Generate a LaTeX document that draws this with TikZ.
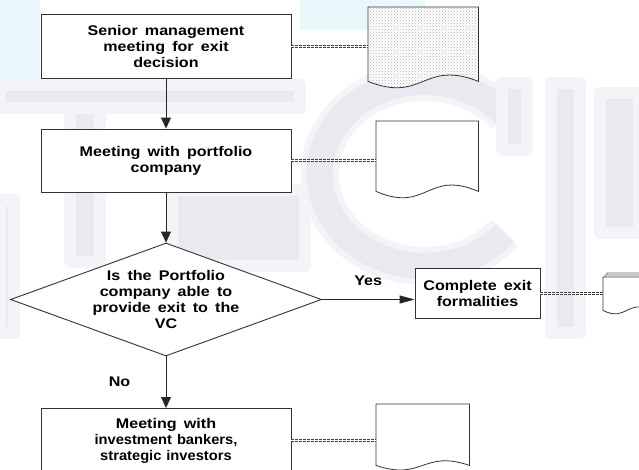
\documentclass[tikz,border=0pt]{standalone}
\usepackage{fontspec}
\setmainfont{Liberation Sans}[FakeStretch=1.15,WordSpace=1.6]
\newfontfamily\narrowsans{Liberation Sans}[FakeStretch=1.05,WordSpace=1.2]
\usetikzlibrary{shapes.geometric,arrows.meta,patterns,calc}
\definecolor{wmark}{RGB}{233,233,240}
\definecolor{wsoft}{RGB}{244,244,248}
\definecolor{wtint}{RGB}{234,248,251}
\begin{document}
\begin{tikzpicture}[x=1pt,y=-1pt,
  every node/.style={font=\fontsize{14}{16}\selectfont\bfseries, text=black},
  stepbox/.style={draw=black!80, line width=0.9pt, fill=white, align=center,
    inner sep=0pt, minimum width=250pt},
  decision/.style={diamond, draw=black!80, line width=0.9pt, fill=white,
    inner sep=0pt, minimum width=311pt, minimum height=113pt},
  flow/.style={draw=black!85, line width=0.9pt, -{Triangle[length=11pt,width=10pt]}},
  hflow/.style={draw=black!85, line width=0.9pt, -{Triangle[length=15pt,width=8pt]}},
  link/.style={draw=black!75, line width=1pt, double=white, double distance=1pt,
    dash pattern=on 3pt off 1pt},
  docarea/.style={inner sep=0pt, anchor=north west},
  docline/.style={draw=black!80, line width=0.8pt, fill=white},
  wm/.style={fill=wmark, draw=wsoft, line width=12pt, line join=round},
]
\useasboundingbox (0,0) rectangle (639,469);
\clip (0,0) rectangle (639,469);
\fill[white] (0,0) rectangle (639,469);

% faint watermark lettering behind the chart
\fill[wtint] (300,0) rectangle (425,30);
\fill[wtint] (0,0) rectangle (40,80);
\draw[wsoft, line width=38pt] (430,170) ++(40:98) arc[start angle=40, end angle=320, x radius=105, y radius=92];
\draw[wm] (0,85) rectangle (300,108);
\draw[wm] (70,108) rectangle (100,262);
\draw[wm] (172,190) rectangle (305,266);
\draw[wmark, line width=26pt] (430,170) ++(40:98) arc[start angle=40, end angle=320, x radius=105, y radius=92];
\draw[wm] (502,83) rectangle (527,150);
\draw[wm] (551,83) rectangle (580,333);
\draw[wm] (600,93) rectangle (639,233);
\draw[wm] (0,200) rectangle (14,333);

% process steps
\node[stepbox, minimum height=64pt] (b1) at (166,46.5) {Senior management\\meeting for exit\\decision};
\node[stepbox, minimum height=63pt] (b2) at (166,160.5) {Meeting with portfolio\\company};
\node[decision] (d) at (166,299.5) {};
\node[align=center] (dq) at (d.center) {Is the Portfolio\\company able to\\provide exit to the\\VC};
\node[stepbox, minimum width=125pt, minimum height=50pt] (b3) at (477.5,293.5) {Complete exit\\formalities};
\node[stepbox, minimum height=65pt, anchor=north] (b4) at (166,408)
  {Meeting with\\{\narrowsans investment bankers,}\\{\narrowsans strategic investors}};

% document frames (rectangular part of each sheet)
\node[docarea, minimum width=110pt, minimum height=74pt] (p1) at (368,7) {};
\node[docarea, minimum width=102pt, minimum height=70pt] (p2) at (376,121) {};
\node[docarea, minimum width=47pt, minimum height=33pt] (p3) at (603,277) {};
\node[docarea, minimum width=93pt, minimum height=61pt] (p4) at (376,404) {};

% sheets with wavy lower edge
\draw[docline, preaction={fill=white}, pattern=crosshatch dots, pattern color=black!30]
  (p1.north west) -- (p1.north east) -- (p1.south east)
  .. controls ($(p1.south)+(0,-22)$) and ($(p1.south)+(0,22)$) .. (p1.south west) -- cycle;
\draw[docline]
  (p2.north west) -- (p2.north east) -- (p2.south east)
  .. controls ($(p2.south)+(0,-22)$) and ($(p2.south)+(0,22)$) .. (p2.south west) -- cycle;
\foreach \o in {4,2} {
  \draw[docline, draw=black!60]
    ($(p3.north west)+(\o,-\o)$) -- ($(p3.north east)+(\o,-\o)$) -- ($(p3.south east)+(\o,-\o)$)
    .. controls ($(p3.south)+(\o,-12-\o)$) and ($(p3.south)+(\o,12-\o)$) .. ($(p3.south west)+(\o,-\o)$) -- cycle;
}
\draw[docline]
  (p3.north west) -- (p3.north east) -- (p3.south east)
  .. controls ($(p3.south)+(0,-12)$) and ($(p3.south)+(0,12)$) .. (p3.south west) -- cycle;
\draw[docline]
  (p4.north west) -- (p4.north east) -- (p4.south east)
  .. controls ($(p4.south)+(0,-16)$) and ($(p4.south)+(0,16)$) .. (p4.south west) -- cycle;

% links from steps to their documents
\draw[link] (b1.east) -- (b1.east -| p1.west);
\draw[link] (b2.east) -- (b2.east -| p2.west);
\draw[link] (b3.east) -- (b3.east -| p3.west);
\draw[link] (b4.east) -- (b4.east -| p4.west);

% flow
\draw[flow] (b1) -- (b2);
\draw[flow] (b2) -- (d);
\draw[flow] (d) -- node[left=32pt] (no) {No} (b4);
\draw[hflow] (d.east) -- node[above=10pt] (yes) {Yes} (d.east -| b3.west);
\end{tikzpicture}
\end{document}
